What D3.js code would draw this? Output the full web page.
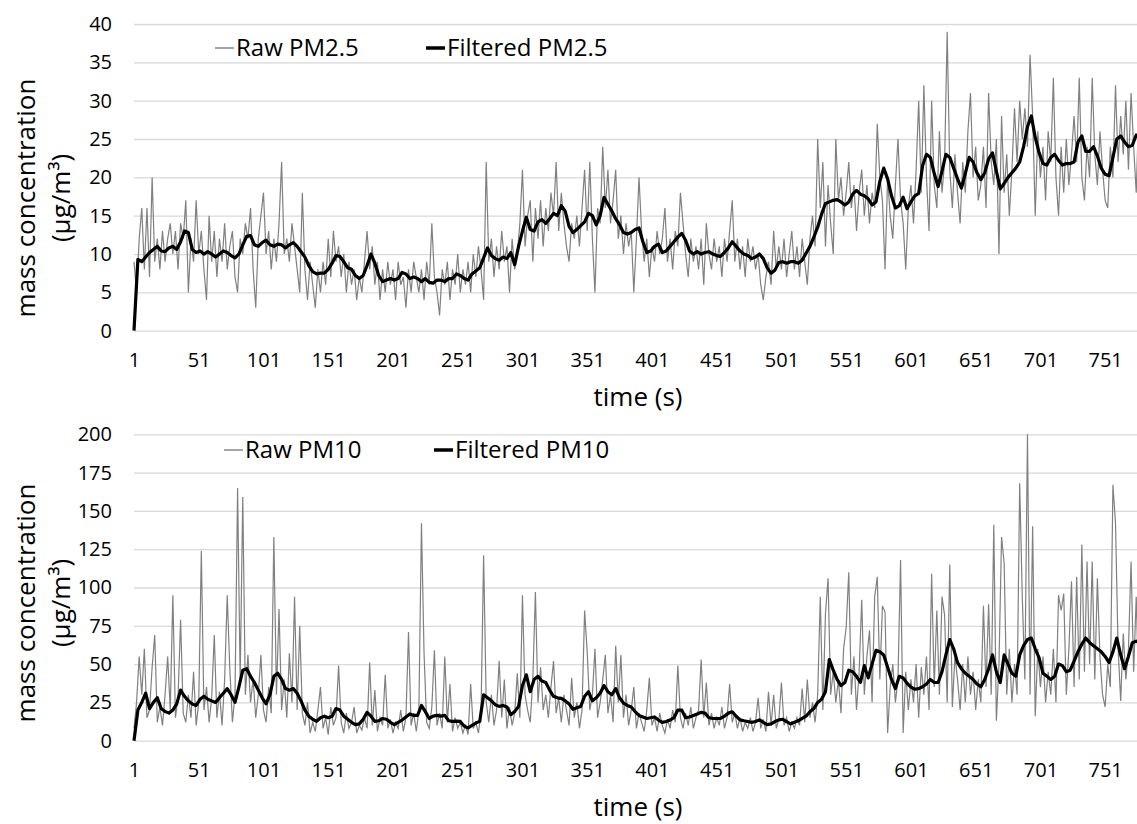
<!DOCTYPE html>
<html>
<head>
<meta charset="utf-8">
<script src="https://cdn.jsdelivr.net/npm/d3@7"></script>
<style>
    body { margin: 0; background: #fff; }
    text { font-family: 'Open Sans', sans-serif; fill: #000; }
</style>
</head>
<body>
<div id="chart"></div>
<script>
// raw readings every 2 s starting at t = 1
const rawStep = 2
// filtered readings every 3 s starting at t = 1
const filteredStep = 3

const rawPM25 = [
    9,5,12,16,8,16,7,20,9,12, 8,13,9,12,14,10,13,8,14,12, 17,5,12,9,17,10,13,8,4,15,
    9,13,7,12,9,14,8,11,13,7, 5,12,10,14,12,16,8,3,12,15, 18,10,13,8,12,9,14,22,10,12,
    9,14,11,8,5,18,8,4,9,6, 3,8,5,9,6,12,7,13,9,11, 7,10,5,9,6,8,4,7,5,9,
    13,8,11,6,9,4,8,5,9,6, 8,4,9,6,7,3,8,5,9,7, 5,8,4,9,6,14,7,5,2,8,
    6,9,4,8,6,10,5,8,6,9, 5,10,7,11,8,4,22,9,12,7, 11,8,13,9,11,5,12,8,10,14,
    21,11,15,17,9,16,12,17,11,16, 13,18,15,22,13,18,14,11,9,14, 12,15,11,16,21,13,22,12,5,16,
    14,24,16,21,14,17,21,12,15,10, 14,11,13,5,12,20,13,9,12,7, 11,9,13,10,12,16,9,12,8,13,
    11,18,14,10,7,12,9,11,8,12, 6,14,10,8,12,9,11,7,12,9, 13,17,9,12,8,11,7,12,9,11,
    8,10,6,4,7,9,6,13,8,11, 8,12,7,10,13,8,11,7,12,9, 6,12,15,11,25,16,22,11,19,14,
    10,25,17,20,15,18,22,16,19,13, 18,21,15,19,14,18,16,27,20,17, 8,20,15,12,19,25,17,14,8,16,
    19,14,21,30,18,32,20,13,30,19, 16,26,18,22,39,21,16,23,18,14, 22,18,26,31,20,24,17,19,24,16,
    31,22,19,25,10,28,18,23,15,21, 29,22,30,25,29,24,36,28,15,26, 20,24,17,26,22,33,20,15,24,18,
    25,19,23,28,22,33,20,17,24,20, 33,23,19,26,21,17,16,24,20,32, 22,28,23,30,21,31,24,18,29,23,
    27
]

const filteredPM25 = [
    0,9.3,9.0,9.6,10.2,10.6,11.0,10.4,10.3,10.8, 11.0,10.6,11.6,13.0,12.8,10.6,10.2,10.4,10.0,10.3,
    10.0,9.6,10.0,10.4,10.2,9.8,9.5,10.0,11.2,12.3, 12.4,11.2,11.0,11.5,11.8,11.2,11.0,11.3,11.2,10.8,
    11.2,11.5,11.0,10.3,9.6,8.5,7.7,7.4,7.5,7.5, 8.0,8.8,9.8,9.7,9.0,8.2,8.0,7.2,6.8,7.2,
    8.5,10.0,8.8,7.2,6.4,6.6,6.8,6.6,6.8,7.6, 7.4,6.8,7.0,6.8,6.4,6.8,6.3,6.2,6.6,6.6,
    6.4,6.8,6.8,7.4,7.2,6.8,6.6,7.4,7.8,8.2, 9.5,10.8,9.8,9.4,9.2,9.6,9.4,10.2,8.6,11.0,
    13.0,14.8,13.2,13.0,14.2,14.5,14.0,14.6,15.3,15.0, 16.3,15.6,13.6,12.8,13.2,13.7,14.2,15.3,15.0,13.8,
    15.0,17.4,16.5,15.6,14.6,13.8,12.8,12.6,12.8,13.2, 13.4,11.6,10.2,10.4,11.0,11.3,10.2,10.4,11.0,11.6,
    12.2,12.7,11.8,10.4,10.0,10.3,10.0,10.2,10.3,10.0, 9.8,9.7,10.2,10.8,11.6,11.0,10.4,10.0,9.8,9.4,
    9.6,10.0,9.4,8.2,7.5,7.9,8.9,9.0,8.8,9.0, 9.0,8.8,9.2,10.1,11.0,12.2,13.5,15.2,16.6,16.8,
    17.0,17.1,16.8,16.4,16.8,17.8,18.3,17.8,17.6,17.2, 16.4,16.8,19.5,21.2,19.8,17.6,16.0,16.3,17.4,15.9,
    16.8,17.6,17.9,21.5,23.0,22.6,20.5,18.8,20.8,23.0, 22.6,21.2,19.8,18.6,20.5,22.6,22.0,20.6,19.7,20.6,
    22.4,23.2,20.8,18.5,19.2,20.0,20.6,21.2,22.0,24.0, 26.6,28.0,25.2,23.2,21.8,21.6,22.6,23.0,22.2,21.6,
    21.8,21.8,22.0,24.6,25.4,23.4,23.4,24.0,22.8,21.2, 20.4,20.2,22.6,25.0,25.4,24.6,24.0,24.2,25.5,25.6,
    25.5
]

const rawPM10 = [
    8,25,55,30,60,15,20,48,69,12, 22,10,30,55,20,95,15,28,79,18, 12,30,15,45,10,25,124,20,35,12,
    28,69,15,32,10,40,95,47,12,30, 165,40,159,30,56,25,40,15,30,56, 20,12,35,18,133,30,86,20,40,15,
    57,25,94,20,75,18,10,25,5,12, 6,20,35,8,15,4,22,10,15,49, 12,5,18,8,12,22,5,10,7,15,
    8,51,10,33,6,15,10,43,8,14, 5,12,8,20,6,15,71,10,18,6, 20,142,57,12,8,22,59,10,18,8,
    55,12,37,6,15,8,12,5,10,4, 37,8,12,5,18,121,25,12,30,10, 20,52,15,40,8,22,10,18,44,15,
    95,30,20,12,40,97,25,48,20,30, 15,35,52,18,28,12,30,20,10,41, 15,25,8,20,85,58,20,30,60,15,
    25,40,56,18,30,12,62,25,56,15, 30,10,20,35,8,18,12,6,20,41, 10,15,6,18,10,5,14,8,20,12,
    49,15,8,18,10,22,8,15,20,53, 15,38,10,18,8,15,10,22,8,15, 37,12,18,8,15,6,12,8,15,6,
    12,28,8,14,6,32,10,30,8,14, 38,10,15,6,12,8,15,10,34,12, 40,15,25,12,30,94,20,83,106,30,
    45,25,40,18,60,74,110,30,55,20, 45,92,30,55,72,25,94,107,40,88, 84,5,35,50,25,40,118,5,45,20,
    40,25,50,15,48,30,55,20,109,35, 85,30,94,82,25,115,22,55,40,20, 50,25,55,30,45,20,40,25,88,35,
    89,30,141,13,50,133,116,30,60,25, 50,30,168,94,40,200,30,140,16,60, 35,55,25,45,30,60,25,95,85,96,
    30,60,104,35,107,40,128,45,117,50, 117,40,106,55,30,22,50,35,167,142, 60,26,70,40,60,117,45,94,30,60,
    25
]

const filteredPM10 = [
    0,20,25,31,21,25,28,21,19,18, 20,24,33,29,26,24,23,27,29,27,
    26,25,28,31,34,30,25,35,46,47, 42,38,33,28,24,30,42,44,40,34,
    33,34,31,26,20,16,14,12.6,15,16, 15,16,21,20,16,14,12,10.5,11,14,
    18.5,16,12.6,13,14.5,14,12,10.5,12,13.5, 15.5,17.5,16.5,16.5,23,19,14.5,16,16.5,16,
    16.5,13,12.6,12.8,12.6,9.5,8.3,10,11.5,12.6, 30,28,26,23.5,22.4,23,22,17,19,22.4,
    36,43,32,40,42,39,38,33,29,28, 27.6,26,24,20.5,21.5,22.4,29,32,26,28,
    31,36,32,30,34,28,24.5,23,22,19, 16.5,15.5,14.5,15,15.5,13.5,12,12.5,13.5,15,
    20,20,15,15.5,16.5,17.5,18.5,18,15,14.5, 14.5,14.5,16,18,18.9,16,13.6,13,12.5,12,
    12.5,13.6,12,10.5,11,12.5,13.6,14,12.5,11, 12,13,14.5,16,18.9,21,25,27,32,53,
    46,40,36,38,46,45,42,38,49,41, 50,59,58,56,48,40,34,42,41,37.5,
    35,33.6,34,35.2,37,40,38,38,45,56, 66,60,51,47,44,42,40,37,35.2,40,
    47,56,45,38,56,50,44,42,56,62, 66,67,60,54,44,42,40,42,50,49,
    45,46,52,58,63,67,64,62,60,58, 55,51,58,67,56,47,55,64,65,64,
    63
]

const xTickLabels = [1, 51, 101, 151, 201, 251, 301, 351, 401, 451, 501, 551, 601, 651, 701, 751]
const yTicksPM25 = [0, 5, 10, 15, 20, 25, 30, 35, 40]
const yTicksPM10 = [0, 25, 50, 75, 100, 125, 150, 175, 200]

const dimensions = { width: 1137, height: 824 }

const svg = d3.select('#chart')
    .append('svg')
    .attr('width', dimensions.width)
    .attr('height', dimensions.height)

const xScale = d3.scaleLinear()
    .domain([1, 781])
    .range([134, 1144])

function drawPanel(p) {
    const g = svg.append('g')

    const yScale = d3.scaleLinear()
        .domain([0, p.yTicks[p.yTicks.length - 1]])
        .range([p.bottom, p.top])

    // gridlines + y labels
    const yAxis = d3.axisLeft(yScale)
        .tickValues(p.yTicks)
        .tickSize(-(dimensions.width - 134))
        .tickPadding(22)
    const yAxisGroup = g.append('g')
        .attr('transform', 'translate(134,0)')
        .call(yAxis)
    yAxisGroup.select('.domain').remove()
    yAxisGroup.selectAll('line').attr('stroke', '#d9d9d9').attr('stroke-width', 1.3)
    yAxisGroup.selectAll('text')
        .style('font-size', '20px')
        .style('font-family', "'Open Sans', sans-serif")
        .attr('fill', '#000')

    const xAxis = d3.axisBottom(xScale)
        .tickValues(xTickLabels)
        .tickSize(0)
        .tickPadding(22)
    const xAxisGroup = g.append('g')
        .attr('transform', `translate(0,${p.bottom})`)
        .call(xAxis)
    xAxisGroup.select('.domain').remove()
    xAxisGroup.selectAll('text')
        .style('font-size', '20px')
        .style('font-family', "'Open Sans', sans-serif")
        .attr('fill', '#000')

    const rawLine = d3.line()
        .x((d, i) => xScale(1 + i * rawStep))
        .y(d => yScale(d))
    const filteredLine = d3.line()
        .x((d, i) => xScale(1 + i * filteredStep))
        .y(d => yScale(d))

    g.append('path')
        .datum(p.raw)
        .attr('d', rawLine)
        .attr('fill', 'none')
        .attr('stroke', '#808080')
        .attr('stroke-width', 1.2)

    g.append('path')
        .datum(p.filtered)
        .attr('d', filteredLine)
        .attr('fill', 'none')
        .attr('stroke', '#000')
        .attr('stroke-width', 3.2)
        .attr('stroke-linejoin', 'round')

    // legend
    const leg = g.append('g')
    leg.append('line')
        .attr('x1', p.legend[0]).attr('x2', p.legend[0] + 19)
        .attr('y1', p.legendY).attr('y2', p.legendY)
        .attr('stroke', '#808080').attr('stroke-width', 1.4)
    leg.append('text')
        .attr('x', p.legend[0] + 21).attr('y', p.legendY)
        .attr('dy', '0.35em')
        .style('font-size', '24px')
        .text(p.names[0])
    leg.append('line')
        .attr('x1', p.legend[1]).attr('x2', p.legend[1] + 19)
        .attr('y1', p.legendY).attr('y2', p.legendY)
        .attr('stroke', '#000').attr('stroke-width', 3.5)
    leg.append('text')
        .attr('x', p.legend[1] + 21).attr('y', p.legendY)
        .attr('dy', '0.35em')
        .style('font-size', '24px')
        .text(p.names[1])

    // axis titles
    g.append('text')
        .attr('x', 638)
        .attr('y', p.bottom + 66)
        .attr('dy', '0.35em')
        .style('font-size', '26px')
        .style('text-anchor', 'middle')
        .text('time (s)')

    g.append('text')
        .attr('transform', `translate(26,${p.titleY}) rotate(-90)`)
        .attr('dy', '0.35em')
        .style('font-size', '26px')
        .style('text-anchor', 'middle')
        .text('mass concentration')

    g.append('text')
        .attr('transform', `translate(61,${p.titleY}) rotate(-90)`)
        .attr('dy', '0.35em')
        .style('font-size', '26px')
        .style('text-anchor', 'middle')
        .text('(µg/m³)')
}

drawPanel({
    top: 24, bottom: 330.7,
    yTicks: yTicksPM25,
    raw: rawPM25, filtered: filteredPM25,
    names: ['Raw PM2.5', 'Filtered PM2.5'],
    legend: [215, 426], legendY: 48,
    titleY: 198
})

drawPanel({
    top: 434.3, bottom: 740.7,
    yTicks: yTicksPM10,
    raw: rawPM10, filtered: filteredPM10,
    names: ['Raw PM10', 'Filtered PM10'],
    legend: [224, 434], legendY: 450,
    titleY: 603
})
</script>
</body>
</html>
